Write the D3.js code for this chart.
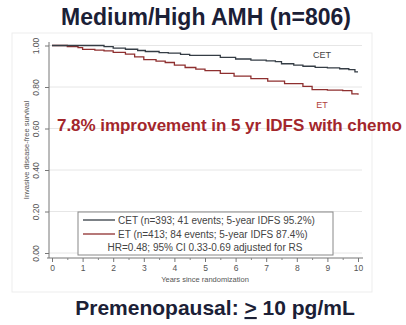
<!DOCTYPE html>
<html>
<head>
<meta charset="utf-8">
<script src="https://cdn.jsdelivr.net/npm/d3@7"></script>
<style>
  body { margin: 0; background: #fff; }
  svg { display: block; font-family: "Liberation Sans", Arial, sans-serif; }
</style>
</head>
<body>
<div id="chart"></div>
<script>
// survival curves (years, proportion free of events)
let cetYears = [0, 1.7, 2.0, 2.4, 2.8, 3.05, 3.5, 3.8, 4.2, 4.5, 5.0, 5.5, 6.0, 6.5, 7.0, 7.3, 7.5, 7.9, 8.2, 8.6, 9.0, 9.4, 9.7, 9.9, 10]
let cetSurv  = [1.0, 0.995, 0.987, 0.982, 0.976, 0.971, 0.966, 0.963, 0.957, 0.952, 0.952, 0.943, 0.935, 0.930, 0.926, 0.922, 0.912, 0.905, 0.900, 0.895, 0.892, 0.888, 0.884, 0.873, 0.873]
let etYears  = [0, 0.5, 0.85, 1.0, 1.4, 1.7, 2.0, 2.4, 2.7, 3.0, 3.4, 3.7, 4.0, 4.35, 4.7, 5.0, 5.5, 5.95, 6.5, 7.05, 7.6, 8.2, 8.5, 9.0, 9.5, 9.8, 10]
let etSurv   = [1.0, 0.995, 0.990, 0.981, 0.978, 0.974, 0.967, 0.958, 0.945, 0.932, 0.925, 0.918, 0.905, 0.894, 0.886, 0.879, 0.866, 0.852, 0.840, 0.828, 0.816, 0.803, 0.787, 0.785, 0.783, 0.767, 0.763]

let xTicks = [0, 1, 2, 3, 4, 5, 6, 7, 8, 9, 10]
let yTicks = [0, 0.2, 0.4, 0.6, 0.8, 1.0]
let legendLabels = [
    "CET (n=393; 41 events; 5-year IDFS 95.2%)",
    "ET (n=413; 84 events; 5-year IDFS 87.4%)"
]
let legendNote = "HR=0.48; 95% CI 0.33-0.69 adjusted for RS"

let cetColor = "#353d45"
let etColor = "#8e2f2f"

let svg = d3.select("#chart")
    .append("svg")
    .attr("width", 406)
    .attr("height", 325)

let x = d3.scaleLinear().domain([0, 10]).range([52, 358])
let y = d3.scaleLinear().domain([0, 1]).range([253, 45.5])

// faint stata graph frame
svg.append("rect")
    .attr("x", 12).attr("y", 33)
    .attr("width", 360).attr("height", 259)
    .attr("fill", "#fff")
    .attr("stroke", "#ededed")

svg.append("text")
    .attr("x", 206).attr("y", 25)
    .attr("text-anchor", "middle")
    .style("font-size", "23px")
    .style("font-weight", "bold")
    .style("fill", "#1b2036")
    .text("Medium/High AMH (n=806)")

// grid
svg.append("g")
    .selectAll("line")
    .data(yTicks)
    .enter()
    .append("line")
    .attr("x1", 49).attr("x2", 362)
    .attr("y1", d => y(d)).attr("y2", d => y(d))
    .attr("stroke", "#e6e6e6")
    .attr("stroke-width", 1)

// y axis
let yAxis = svg.append("g")
    .attr("transform", "translate(49,0)")
    .call(d3.axisLeft(y).tickValues(yTicks).tickFormat(d3.format(".2f")).tickSize(4))
yAxis.select(".domain").attr("stroke", "#777").attr("d", "M0,42V258")
yAxis.selectAll(".tick line").attr("stroke", "#777")
yAxis.selectAll(".tick text")
    .attr("transform", "rotate(-90)")
    .attr("x", 0).attr("y", -10)
    .attr("dy", "0")
    .attr("text-anchor", "middle")
    .style("font-size", "8.5px")
    .style("fill", "#555")

svg.append("text")
    .attr("transform", "translate(29,150) rotate(-90)")
    .attr("text-anchor", "middle")
    .style("font-size", "7.5px")
    .style("fill", "#555")
    .text("Invasive disease-free survival")

// x axis, offset below the plot like stata
let xAxis = svg.append("g")
    .attr("transform", "translate(0,258)")
    .call(d3.axisBottom(x).tickValues(xTicks).tickSize(4))
xAxis.select(".domain").attr("stroke", "#777").attr("d", "M47,0H363")
xAxis.selectAll(".tick line").attr("stroke", "#777")
xAxis.selectAll(".tick text")
    .attr("y", 7)
    .style("font-size", "8.5px")
    .style("fill", "#555")

svg.append("g")
    .attr("transform", "translate(0,258)")
    .call(d3.axisBottom(x).tickValues(d3.range(0.5, 10, 1)).tickSize(2).tickFormat(""))
    .call(g => g.select(".domain").remove())
    .selectAll(".tick line").attr("stroke", "#888")

svg.append("text")
    .attr("x", 205).attr("y", 282)
    .attr("text-anchor", "middle")
    .style("font-size", "7.5px")
    .style("fill", "#555")
    .text("Years since randomization")

// curves
let line = d3.line()
    .x(d => x(d[0]))
    .y(d => y(d[1]))
    .curve(d3.curveStepAfter)

svg.append("path")
    .datum(d3.zip(etYears, etSurv))
    .attr("d", line)
    .attr("fill", "none")
    .attr("stroke", etColor)
    .attr("stroke-width", 1.3)

svg.append("path")
    .datum(d3.zip(cetYears, cetSurv))
    .attr("d", line)
    .attr("fill", "none")
    .attr("stroke", cetColor)
    .attr("stroke-width", 1.3)

svg.append("text")
    .attr("x", 322).attr("y", 58)
    .attr("text-anchor", "middle")
    .style("font-size", "9px")
    .style("fill", "#444")
    .text("CET")

svg.append("text")
    .attr("x", 322).attr("y", 108)
    .attr("text-anchor", "middle")
    .style("font-size", "9px")
    .style("fill", "#b0403a")
    .text("ET")

svg.append("text")
    .attr("x", 57).attr("y", 131)
    .attr("textLength", 345)
    .style("font-size", "17px")
    .style("font-weight", "bold")
    .style("fill", "#a3262b")
    .text("7.8% improvement in 5 yr IDFS with chemo")

// legend
let legend = svg.append("g")
legend.append("rect")
    .attr("x", 78).attr("y", 212)
    .attr("width", 255).attr("height", 43)
    .attr("fill", "#fff")
    .attr("stroke", "#888")
    .attr("stroke-width", 1)

let rows = legend.selectAll(".row")
    .data(legendLabels)
    .enter()
    .append("g")
    .attr("transform", (d, i) => "translate(0," + (220 + i * 14) + ")")

rows.append("line")
    .attr("x1", 83).attr("x2", 115)
    .attr("stroke", (d, i) => i == 0 ? cetColor : etColor)
    .attr("stroke-width", 1.3)

rows.append("text")
    .attr("x", 118).attr("y", 3.5)
    .style("font-size", "10px")
    .style("fill", "#444")
    .text(d => d)

legend.append("text")
    .attr("x", 205).attr("y", 250.5)
    .attr("text-anchor", "middle")
    .style("font-size", "10px")
    .style("fill", "#444")
    .text(legendNote)

// bottom caption
let cap = svg.append("text")
    .attr("x", 215).attr("y", 315)
    .attr("text-anchor", "middle")
    .style("font-size", "21px")
    .style("font-weight", "bold")
    .style("fill", "#1b2036")
cap.append("tspan").text("Premenopausal: ")
cap.append("tspan").style("text-decoration", "underline").text(">")
cap.append("tspan").text(" 10 pg/mL")
</script>
</body>
</html>
